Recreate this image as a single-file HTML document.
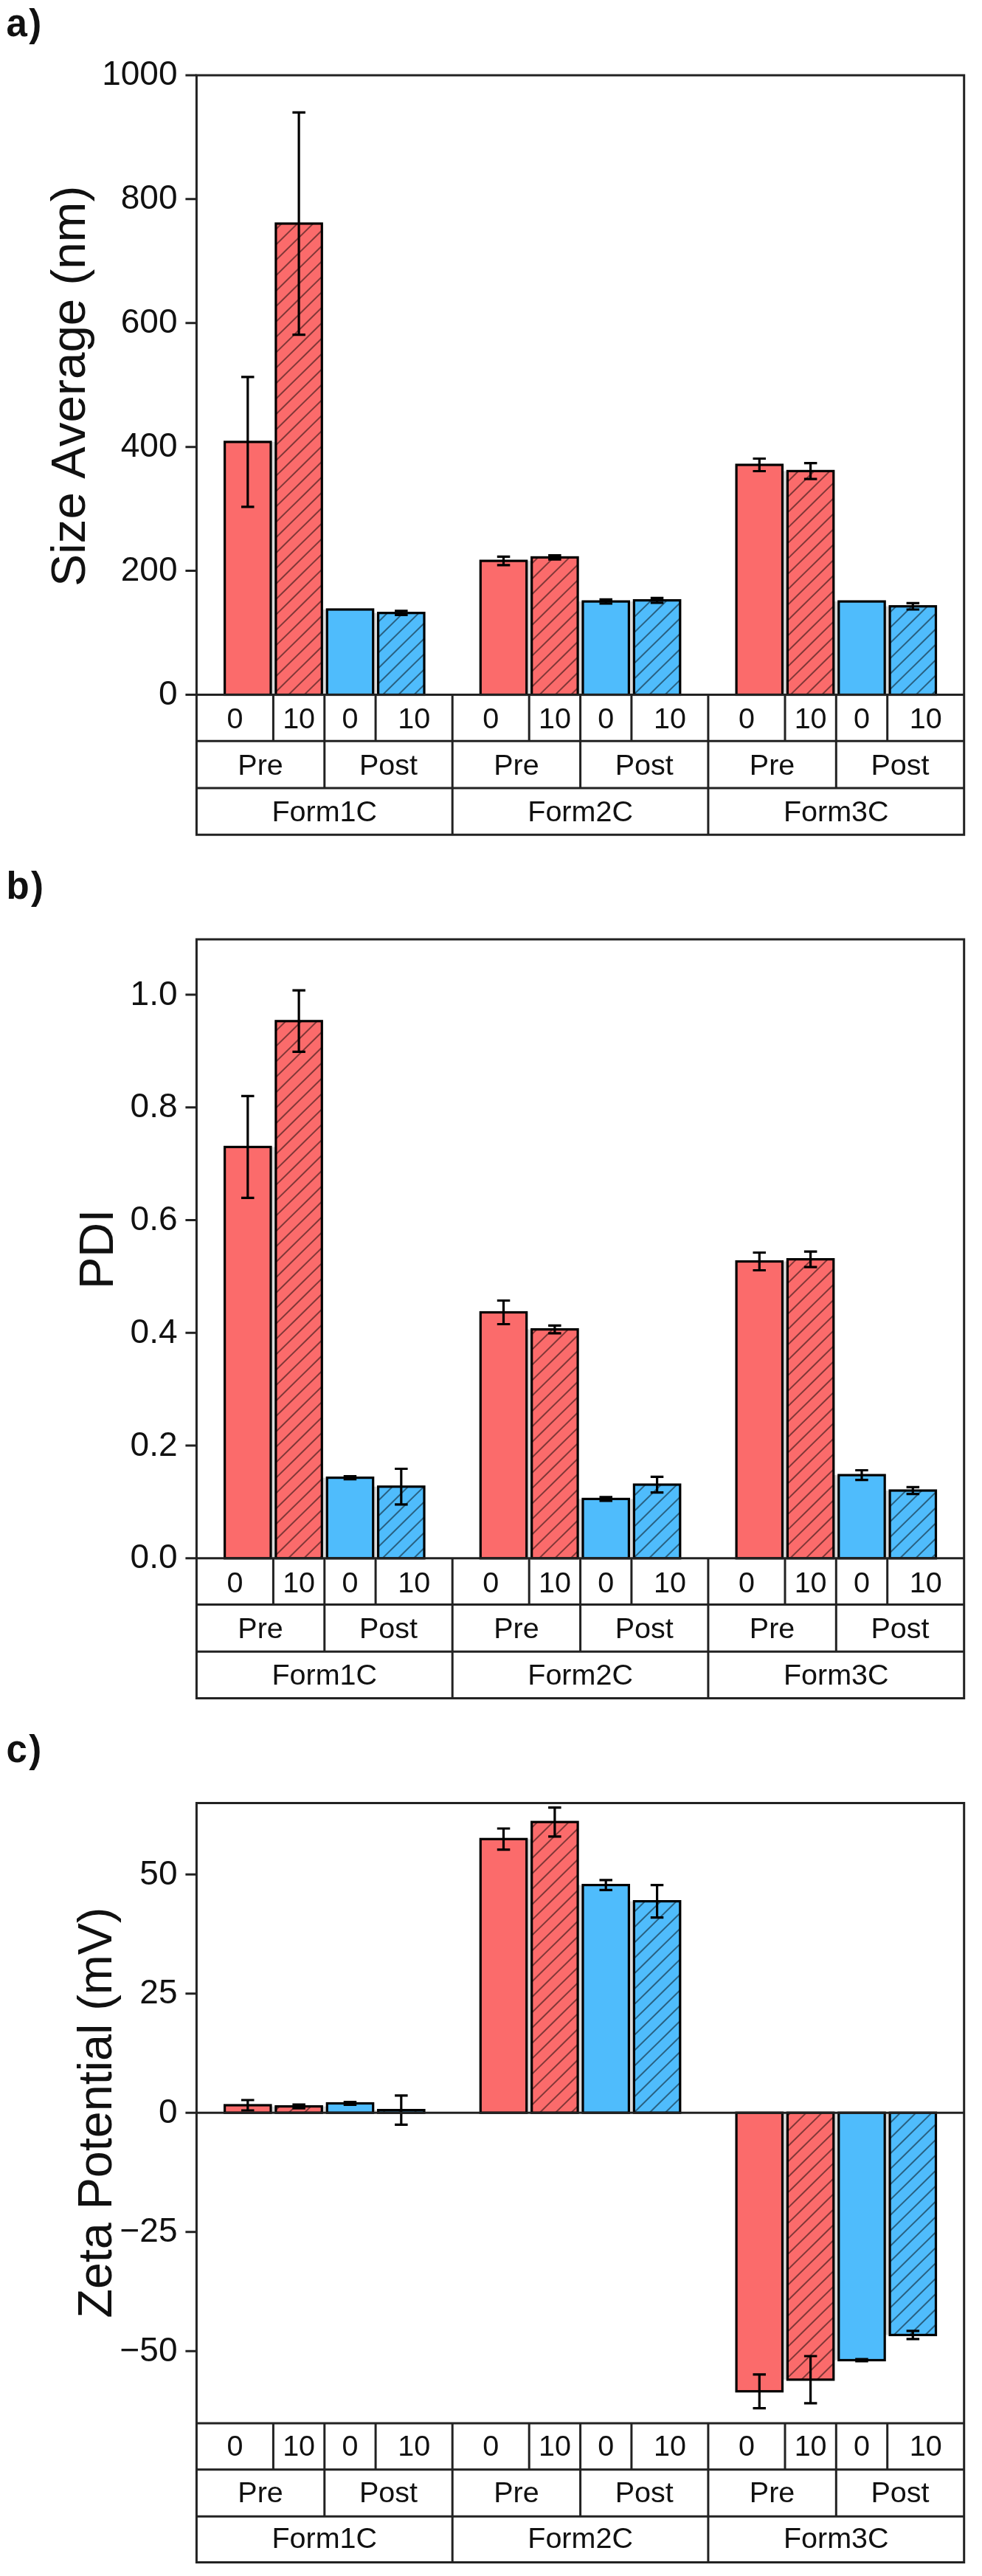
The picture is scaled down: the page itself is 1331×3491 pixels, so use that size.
<!DOCTYPE html>
<html lang="en"><head><meta charset="utf-8"><title>Figure</title>
<style>html,body{margin:0;padding:0;background:#fff}svg{display:block;filter:blur(0.5px)}text{font-family:"Liberation Sans",Arial,Helvetica,sans-serif;fill:#111;font-kerning:none}</style></head><body>
<svg width="1331" height="3491" viewBox="0 0 1331 3491">
<defs>
<pattern id="hatch" patternUnits="userSpaceOnUse" width="20" height="14.9" patternTransform="rotate(-44.5)"><line x1="-1" y1="7" x2="21" y2="7" stroke="#000" stroke-opacity="0.72" stroke-width="1.35"/></pattern>
</defs>
<rect x="0" y="0" width="1331" height="3491" fill="#ffffff"/>
<g id="panel-a">
<text x="8.4" y="48.5" font-size="51" font-weight="bold" letter-spacing="2.5">a)</text>
<rect x="367.0" y="598.9" width="6.95" height="342.6" fill="#dadada"/>
<rect x="436.3" y="826.0" width="6.95" height="115.5" fill="#dadada"/>
<rect x="505.7" y="830.7" width="6.95" height="110.8" fill="#dadada"/>
<rect x="713.7" y="760.1" width="6.95" height="181.4" fill="#dadada"/>
<rect x="783.1" y="815.1" width="6.95" height="126.4" fill="#dadada"/>
<rect x="852.4" y="815.1" width="6.95" height="126.4" fill="#dadada"/>
<rect x="1060.5" y="638.4" width="6.95" height="303.1" fill="#dadada"/>
<rect x="1129.8" y="815.1" width="6.95" height="126.4" fill="#dadada"/>
<rect x="1199.2" y="821.7" width="6.95" height="119.8" fill="#dadada"/>
<rect x="304.6" y="598.9" width="62.4" height="342.6" fill="#fb6b6b"/>
<rect x="304.6" y="598.9" width="62.4" height="342.6" fill="none" stroke="#000" stroke-width="3.2"/>
<rect x="373.9" y="303.0" width="62.4" height="638.5" fill="#fb6b6b"/>
<rect x="373.9" y="303.0" width="62.4" height="638.5" fill="url(#hatch)"/>
<rect x="373.9" y="303.0" width="62.4" height="638.5" fill="none" stroke="#000" stroke-width="3.2"/>
<rect x="443.3" y="826.0" width="62.4" height="115.5" fill="#4fbcfc"/>
<rect x="443.3" y="826.0" width="62.4" height="115.5" fill="none" stroke="#000" stroke-width="3.2"/>
<rect x="512.6" y="830.7" width="62.4" height="110.8" fill="#4fbcfc"/>
<rect x="512.6" y="830.7" width="62.4" height="110.8" fill="url(#hatch)"/>
<rect x="512.6" y="830.7" width="62.4" height="110.8" fill="none" stroke="#000" stroke-width="3.2"/>
<rect x="651.3" y="760.1" width="62.4" height="181.4" fill="#fb6b6b"/>
<rect x="651.3" y="760.1" width="62.4" height="181.4" fill="none" stroke="#000" stroke-width="3.2"/>
<rect x="720.7" y="755.4" width="62.4" height="186.1" fill="#fb6b6b"/>
<rect x="720.7" y="755.4" width="62.4" height="186.1" fill="url(#hatch)"/>
<rect x="720.7" y="755.4" width="62.4" height="186.1" fill="none" stroke="#000" stroke-width="3.2"/>
<rect x="790.0" y="815.1" width="62.4" height="126.4" fill="#4fbcfc"/>
<rect x="790.0" y="815.1" width="62.4" height="126.4" fill="none" stroke="#000" stroke-width="3.2"/>
<rect x="859.4" y="813.6" width="62.4" height="127.9" fill="#4fbcfc"/>
<rect x="859.4" y="813.6" width="62.4" height="127.9" fill="url(#hatch)"/>
<rect x="859.4" y="813.6" width="62.4" height="127.9" fill="none" stroke="#000" stroke-width="3.2"/>
<rect x="998.1" y="630.0" width="62.4" height="311.5" fill="#fb6b6b"/>
<rect x="998.1" y="630.0" width="62.4" height="311.5" fill="none" stroke="#000" stroke-width="3.2"/>
<rect x="1067.4" y="638.4" width="62.4" height="303.1" fill="#fb6b6b"/>
<rect x="1067.4" y="638.4" width="62.4" height="303.1" fill="url(#hatch)"/>
<rect x="1067.4" y="638.4" width="62.4" height="303.1" fill="none" stroke="#000" stroke-width="3.2"/>
<rect x="1136.8" y="815.1" width="62.4" height="126.4" fill="#4fbcfc"/>
<rect x="1136.8" y="815.1" width="62.4" height="126.4" fill="none" stroke="#000" stroke-width="3.2"/>
<rect x="1206.1" y="821.7" width="62.4" height="119.8" fill="#4fbcfc"/>
<rect x="1206.1" y="821.7" width="62.4" height="119.8" fill="url(#hatch)"/>
<rect x="1206.1" y="821.7" width="62.4" height="119.8" fill="none" stroke="#000" stroke-width="3.2"/>
<path d="M335.8 510.9V686.9M327.0 510.9H344.5M327.0 686.9H344.5" stroke="#000" stroke-width="3.2" fill="none"/>
<path d="M405.1 152.4V453.6M396.4 152.4H413.9M396.4 453.6H413.9" stroke="#000" stroke-width="3.2" fill="none"/>
<path d="M543.8 827.9V833.5M535.1 827.9H552.6M535.1 833.5H552.6" stroke="#000" stroke-width="3.2" fill="none"/>
<path d="M682.5 754.4V765.8M673.8 754.4H691.3M673.8 765.8H691.3" stroke="#000" stroke-width="3.2" fill="none"/>
<path d="M751.9 752.6V758.2M743.1 752.6H760.6M743.1 758.2H760.6" stroke="#000" stroke-width="3.2" fill="none"/>
<path d="M821.2 812.3V817.9M812.5 812.3H830.0M812.5 817.9H830.0" stroke="#000" stroke-width="3.2" fill="none"/>
<path d="M890.6 810.4V816.8M881.8 810.4H899.3M881.8 816.8H899.3" stroke="#000" stroke-width="3.2" fill="none"/>
<path d="M1029.3 621.5V638.5M1020.5 621.5H1038.0M1020.5 638.5H1038.0" stroke="#000" stroke-width="3.2" fill="none"/>
<path d="M1098.6 627.6V649.2M1089.9 627.6H1107.4M1089.9 649.2H1107.4" stroke="#000" stroke-width="3.2" fill="none"/>
<path d="M1237.3 817.4V826.0M1228.6 817.4H1246.1M1228.6 826.0H1246.1" stroke="#000" stroke-width="3.2" fill="none"/>
<path d="M266.4 101.9H1306.7V1131.2H266.4Z M266.4 941.5H1306.7 M266.4 1004.2H1306.7 M266.4 1068.0H1306.7 M370.4 941.5V1004.2 M439.8 941.5V1004.2 M509.1 941.5V1004.2 M613.2 941.5V1004.2 M717.2 941.5V1004.2 M786.6 941.5V1004.2 M855.9 941.5V1004.2 M959.9 941.5V1004.2 M1064.0 941.5V1004.2 M1133.3 941.5V1004.2 M1202.7 941.5V1004.2 M439.8 1004.2V1068.0 M613.2 1004.2V1068.0 M786.6 1004.2V1068.0 M959.9 1004.2V1068.0 M1133.3 1004.2V1068.0 M613.2 1068.0V1131.2 M959.9 1068.0V1131.2" fill="none" stroke="#222" stroke-width="3.0" stroke-linejoin="miter"/>
<path d="M251.4 941.5H266.4M251.4 773.6H266.4M251.4 605.7H266.4M251.4 437.7H266.4M251.4 269.8H266.4M251.4 101.9H266.4" fill="none" stroke="#222" stroke-width="3.0"/>
<text x="240.5" y="955.0" font-size="46" text-anchor="end">0</text>
<text x="240.5" y="787.1" font-size="46" text-anchor="end">200</text>
<text x="240.5" y="619.2" font-size="46" text-anchor="end">400</text>
<text x="240.5" y="451.2" font-size="46" text-anchor="end">600</text>
<text x="240.5" y="283.3" font-size="46" text-anchor="end">800</text>
<text x="240.5" y="115.4" font-size="46" text-anchor="end">1000</text>
<text transform="translate(115.2 523.2) rotate(-90)" font-size="64.5" text-anchor="middle" textLength="543" lengthAdjust="spacingAndGlyphs">Size Average (nm)</text>
<text x="318.4" y="987.2" font-size="39.5" text-anchor="middle">0</text>
<text x="405.1" y="987.2" font-size="39.5" text-anchor="middle">10</text>
<text x="474.5" y="987.2" font-size="39.5" text-anchor="middle">0</text>
<text x="561.2" y="987.2" font-size="39.5" text-anchor="middle">10</text>
<text x="665.2" y="987.2" font-size="39.5" text-anchor="middle">0</text>
<text x="751.9" y="987.2" font-size="39.5" text-anchor="middle">10</text>
<text x="821.2" y="987.2" font-size="39.5" text-anchor="middle">0</text>
<text x="907.9" y="987.2" font-size="39.5" text-anchor="middle">10</text>
<text x="1011.9" y="987.2" font-size="39.5" text-anchor="middle">0</text>
<text x="1098.6" y="987.2" font-size="39.5" text-anchor="middle">10</text>
<text x="1168.0" y="987.2" font-size="39.5" text-anchor="middle">0</text>
<text x="1254.7" y="987.2" font-size="39.5" text-anchor="middle">10</text>
<text x="353.1" y="1050.1" font-size="39.5" text-anchor="middle">Pre</text>
<text x="526.5" y="1050.1" font-size="39.5" text-anchor="middle">Post</text>
<text x="699.9" y="1050.1" font-size="39.5" text-anchor="middle">Pre</text>
<text x="873.2" y="1050.1" font-size="39.5" text-anchor="middle">Post</text>
<text x="1046.6" y="1050.1" font-size="39.5" text-anchor="middle">Pre</text>
<text x="1220.0" y="1050.1" font-size="39.5" text-anchor="middle">Post</text>
<text x="439.8" y="1113.0" font-size="39.5" text-anchor="middle">Form1C</text>
<text x="786.6" y="1113.0" font-size="39.5" text-anchor="middle">Form2C</text>
<text x="1133.3" y="1113.0" font-size="39.5" text-anchor="middle">Form3C</text>
</g>
<g id="panel-b">
<text x="8.4" y="1218.0" font-size="51" font-weight="bold" letter-spacing="2.5">b)</text>
<rect x="367.0" y="1554.4" width="6.95" height="557.4" fill="#dadada"/>
<rect x="436.3" y="2002.6" width="6.95" height="109.2" fill="#dadada"/>
<rect x="505.7" y="2014.7" width="6.95" height="97.1" fill="#dadada"/>
<rect x="713.7" y="1801.6" width="6.95" height="310.2" fill="#dadada"/>
<rect x="783.1" y="2031.4" width="6.95" height="80.4" fill="#dadada"/>
<rect x="852.4" y="2031.4" width="6.95" height="80.4" fill="#dadada"/>
<rect x="1060.5" y="1709.5" width="6.95" height="402.3" fill="#dadada"/>
<rect x="1129.8" y="1999.1" width="6.95" height="112.7" fill="#dadada"/>
<rect x="1199.2" y="2020.0" width="6.95" height="91.8" fill="#dadada"/>
<rect x="304.6" y="1554.4" width="62.4" height="557.4" fill="#fb6b6b"/>
<rect x="304.6" y="1554.4" width="62.4" height="557.4" fill="none" stroke="#000" stroke-width="3.2"/>
<rect x="373.9" y="1383.8" width="62.4" height="728.0" fill="#fb6b6b"/>
<rect x="373.9" y="1383.8" width="62.4" height="728.0" fill="url(#hatch)"/>
<rect x="373.9" y="1383.8" width="62.4" height="728.0" fill="none" stroke="#000" stroke-width="3.2"/>
<rect x="443.3" y="2002.6" width="62.4" height="109.2" fill="#4fbcfc"/>
<rect x="443.3" y="2002.6" width="62.4" height="109.2" fill="none" stroke="#000" stroke-width="3.2"/>
<rect x="512.6" y="2014.7" width="62.4" height="97.1" fill="#4fbcfc"/>
<rect x="512.6" y="2014.7" width="62.4" height="97.1" fill="url(#hatch)"/>
<rect x="512.6" y="2014.7" width="62.4" height="97.1" fill="none" stroke="#000" stroke-width="3.2"/>
<rect x="651.3" y="1778.5" width="62.4" height="333.3" fill="#fb6b6b"/>
<rect x="651.3" y="1778.5" width="62.4" height="333.3" fill="none" stroke="#000" stroke-width="3.2"/>
<rect x="720.7" y="1801.6" width="62.4" height="310.2" fill="#fb6b6b"/>
<rect x="720.7" y="1801.6" width="62.4" height="310.2" fill="url(#hatch)"/>
<rect x="720.7" y="1801.6" width="62.4" height="310.2" fill="none" stroke="#000" stroke-width="3.2"/>
<rect x="790.0" y="2031.4" width="62.4" height="80.4" fill="#4fbcfc"/>
<rect x="790.0" y="2031.4" width="62.4" height="80.4" fill="none" stroke="#000" stroke-width="3.2"/>
<rect x="859.4" y="2012.0" width="62.4" height="99.8" fill="#4fbcfc"/>
<rect x="859.4" y="2012.0" width="62.4" height="99.8" fill="url(#hatch)"/>
<rect x="859.4" y="2012.0" width="62.4" height="99.8" fill="none" stroke="#000" stroke-width="3.2"/>
<rect x="998.1" y="1709.5" width="62.4" height="402.3" fill="#fb6b6b"/>
<rect x="998.1" y="1709.5" width="62.4" height="402.3" fill="none" stroke="#000" stroke-width="3.2"/>
<rect x="1067.4" y="1706.6" width="62.4" height="405.2" fill="#fb6b6b"/>
<rect x="1067.4" y="1706.6" width="62.4" height="405.2" fill="url(#hatch)"/>
<rect x="1067.4" y="1706.6" width="62.4" height="405.2" fill="none" stroke="#000" stroke-width="3.2"/>
<rect x="1136.8" y="1999.1" width="62.4" height="112.7" fill="#4fbcfc"/>
<rect x="1136.8" y="1999.1" width="62.4" height="112.7" fill="none" stroke="#000" stroke-width="3.2"/>
<rect x="1206.1" y="2020.0" width="62.4" height="91.8" fill="#4fbcfc"/>
<rect x="1206.1" y="2020.0" width="62.4" height="91.8" fill="url(#hatch)"/>
<rect x="1206.1" y="2020.0" width="62.4" height="91.8" fill="none" stroke="#000" stroke-width="3.2"/>
<path d="M335.8 1485.4V1623.4M327.0 1485.4H344.5M327.0 1623.4H344.5" stroke="#000" stroke-width="3.2" fill="none"/>
<path d="M405.1 1342.2V1425.4M396.4 1342.2H413.9M396.4 1425.4H413.9" stroke="#000" stroke-width="3.2" fill="none"/>
<path d="M474.5 2000.6V2004.6M465.7 2000.6H483.2M465.7 2004.6H483.2" stroke="#000" stroke-width="3.2" fill="none"/>
<path d="M543.8 1990.5V2038.9M535.1 1990.5H552.6M535.1 2038.9H552.6" stroke="#000" stroke-width="3.2" fill="none"/>
<path d="M682.5 1762.5V1794.5M673.8 1762.5H691.3M673.8 1794.5H691.3" stroke="#000" stroke-width="3.2" fill="none"/>
<path d="M751.9 1796.3V1806.9M743.1 1796.3H760.6M743.1 1806.9H760.6" stroke="#000" stroke-width="3.2" fill="none"/>
<path d="M821.2 2028.8V2034.0M812.5 2028.8H830.0M812.5 2034.0H830.0" stroke="#000" stroke-width="3.2" fill="none"/>
<path d="M890.6 2001.4V2022.6M881.8 2001.4H899.3M881.8 2022.6H899.3" stroke="#000" stroke-width="3.2" fill="none"/>
<path d="M1029.3 1697.5V1721.5M1020.5 1697.5H1038.0M1020.5 1721.5H1038.0" stroke="#000" stroke-width="3.2" fill="none"/>
<path d="M1098.6 1696.1V1717.1M1089.9 1696.1H1107.4M1089.9 1717.1H1107.4" stroke="#000" stroke-width="3.2" fill="none"/>
<path d="M1168.0 1992.5V2005.7M1159.2 1992.5H1176.7M1159.2 2005.7H1176.7" stroke="#000" stroke-width="3.2" fill="none"/>
<path d="M1237.3 2015.4V2024.6M1228.6 2015.4H1246.1M1228.6 2024.6H1246.1" stroke="#000" stroke-width="3.2" fill="none"/>
<path d="M266.4 1273.0H1306.7V2301.5H266.4Z M266.4 2111.8H1306.7 M266.4 2174.5H1306.7 M266.4 2238.3H1306.7 M370.4 2111.8V2174.5 M439.8 2111.8V2174.5 M509.1 2111.8V2174.5 M613.2 2111.8V2174.5 M717.2 2111.8V2174.5 M786.6 2111.8V2174.5 M855.9 2111.8V2174.5 M959.9 2111.8V2174.5 M1064.0 2111.8V2174.5 M1133.3 2111.8V2174.5 M1202.7 2111.8V2174.5 M439.8 2174.5V2238.3 M613.2 2174.5V2238.3 M786.6 2174.5V2238.3 M959.9 2174.5V2238.3 M1133.3 2174.5V2238.3 M613.2 2238.3V2301.5 M959.9 2238.3V2301.5" fill="none" stroke="#222" stroke-width="3.0" stroke-linejoin="miter"/>
<path d="M251.4 2111.8H266.4M251.4 1959.1H266.4M251.4 1806.3H266.4M251.4 1653.6H266.4M251.4 1500.8H266.4M251.4 1348.1H266.4" fill="none" stroke="#222" stroke-width="3.0"/>
<text x="240.5" y="2125.3" font-size="46" text-anchor="end">0.0</text>
<text x="240.5" y="1972.6" font-size="46" text-anchor="end">0.2</text>
<text x="240.5" y="1819.8" font-size="46" text-anchor="end">0.4</text>
<text x="240.5" y="1667.1" font-size="46" text-anchor="end">0.6</text>
<text x="240.5" y="1514.3" font-size="46" text-anchor="end">0.8</text>
<text x="240.5" y="1361.6" font-size="46" text-anchor="end">1.0</text>
<text transform="translate(153.3 1692.9) rotate(-90)" font-size="64.5" text-anchor="middle" textLength="108.4" lengthAdjust="spacingAndGlyphs">PDI</text>
<text x="318.4" y="2157.5" font-size="39.5" text-anchor="middle">0</text>
<text x="405.1" y="2157.5" font-size="39.5" text-anchor="middle">10</text>
<text x="474.5" y="2157.5" font-size="39.5" text-anchor="middle">0</text>
<text x="561.2" y="2157.5" font-size="39.5" text-anchor="middle">10</text>
<text x="665.2" y="2157.5" font-size="39.5" text-anchor="middle">0</text>
<text x="751.9" y="2157.5" font-size="39.5" text-anchor="middle">10</text>
<text x="821.2" y="2157.5" font-size="39.5" text-anchor="middle">0</text>
<text x="907.9" y="2157.5" font-size="39.5" text-anchor="middle">10</text>
<text x="1011.9" y="2157.5" font-size="39.5" text-anchor="middle">0</text>
<text x="1098.6" y="2157.5" font-size="39.5" text-anchor="middle">10</text>
<text x="1168.0" y="2157.5" font-size="39.5" text-anchor="middle">0</text>
<text x="1254.7" y="2157.5" font-size="39.5" text-anchor="middle">10</text>
<text x="353.1" y="2220.4" font-size="39.5" text-anchor="middle">Pre</text>
<text x="526.5" y="2220.4" font-size="39.5" text-anchor="middle">Post</text>
<text x="699.9" y="2220.4" font-size="39.5" text-anchor="middle">Pre</text>
<text x="873.2" y="2220.4" font-size="39.5" text-anchor="middle">Post</text>
<text x="1046.6" y="2220.4" font-size="39.5" text-anchor="middle">Pre</text>
<text x="1220.0" y="2220.4" font-size="39.5" text-anchor="middle">Post</text>
<text x="439.8" y="2283.3" font-size="39.5" text-anchor="middle">Form1C</text>
<text x="786.6" y="2283.3" font-size="39.5" text-anchor="middle">Form2C</text>
<text x="1133.3" y="2283.3" font-size="39.5" text-anchor="middle">Form3C</text>
</g>
<g id="panel-c">
<text x="8.4" y="2388.0" font-size="51" font-weight="bold" letter-spacing="2.5">c)</text>
<rect x="367.0" y="2854.6" width="6.95" height="8.6" fill="#dadada"/>
<rect x="436.3" y="2854.6" width="6.95" height="8.6" fill="#dadada"/>
<rect x="505.7" y="2859.6" width="6.95" height="3.6" fill="#dadada"/>
<rect x="713.7" y="2492.3" width="6.95" height="370.9" fill="#dadada"/>
<rect x="783.1" y="2554.6" width="6.95" height="308.6" fill="#dadada"/>
<rect x="852.4" y="2576.6" width="6.95" height="286.6" fill="#dadada"/>
<rect x="1060.5" y="2863.2" width="6.95" height="361.7" fill="#dadada"/>
<rect x="1129.8" y="2863.2" width="6.95" height="335.3" fill="#dadada"/>
<rect x="1199.2" y="2863.2" width="6.95" height="301.2" fill="#dadada"/>
<rect x="304.6" y="2853.0" width="62.4" height="10.2" fill="#fb6b6b"/>
<rect x="304.6" y="2853.0" width="62.4" height="10.2" fill="none" stroke="#000" stroke-width="3.2"/>
<rect x="373.9" y="2854.6" width="62.4" height="8.6" fill="#fb6b6b"/>
<rect x="373.9" y="2854.6" width="62.4" height="8.6" fill="url(#hatch)"/>
<rect x="373.9" y="2854.6" width="62.4" height="8.6" fill="none" stroke="#000" stroke-width="3.2"/>
<rect x="443.3" y="2850.5" width="62.4" height="12.7" fill="#4fbcfc"/>
<rect x="443.3" y="2850.5" width="62.4" height="12.7" fill="none" stroke="#000" stroke-width="3.2"/>
<rect x="512.6" y="2859.6" width="62.4" height="3.6" fill="#4fbcfc"/>
<rect x="512.6" y="2859.6" width="62.4" height="3.6" fill="url(#hatch)"/>
<rect x="512.6" y="2859.6" width="62.4" height="3.6" fill="none" stroke="#000" stroke-width="3.2"/>
<rect x="651.3" y="2492.3" width="62.4" height="370.9" fill="#fb6b6b"/>
<rect x="651.3" y="2492.3" width="62.4" height="370.9" fill="none" stroke="#000" stroke-width="3.2"/>
<rect x="720.7" y="2469.2" width="62.4" height="394.0" fill="#fb6b6b"/>
<rect x="720.7" y="2469.2" width="62.4" height="394.0" fill="url(#hatch)"/>
<rect x="720.7" y="2469.2" width="62.4" height="394.0" fill="none" stroke="#000" stroke-width="3.2"/>
<rect x="790.0" y="2554.6" width="62.4" height="308.6" fill="#4fbcfc"/>
<rect x="790.0" y="2554.6" width="62.4" height="308.6" fill="none" stroke="#000" stroke-width="3.2"/>
<rect x="859.4" y="2576.6" width="62.4" height="286.6" fill="#4fbcfc"/>
<rect x="859.4" y="2576.6" width="62.4" height="286.6" fill="url(#hatch)"/>
<rect x="859.4" y="2576.6" width="62.4" height="286.6" fill="none" stroke="#000" stroke-width="3.2"/>
<rect x="998.1" y="2863.2" width="62.4" height="377.5" fill="#fb6b6b"/>
<rect x="998.1" y="2863.2" width="62.4" height="377.5" fill="none" stroke="#000" stroke-width="3.2"/>
<rect x="1067.4" y="2863.2" width="62.4" height="361.7" fill="#fb6b6b"/>
<rect x="1067.4" y="2863.2" width="62.4" height="361.7" fill="url(#hatch)"/>
<rect x="1067.4" y="2863.2" width="62.4" height="361.7" fill="none" stroke="#000" stroke-width="3.2"/>
<rect x="1136.8" y="2863.2" width="62.4" height="335.3" fill="#4fbcfc"/>
<rect x="1136.8" y="2863.2" width="62.4" height="335.3" fill="none" stroke="#000" stroke-width="3.2"/>
<rect x="1206.1" y="2863.2" width="62.4" height="301.2" fill="#4fbcfc"/>
<rect x="1206.1" y="2863.2" width="62.4" height="301.2" fill="url(#hatch)"/>
<rect x="1206.1" y="2863.2" width="62.4" height="301.2" fill="none" stroke="#000" stroke-width="3.2"/>
<path d="M335.8 2846.0V2860.0M327.0 2846.0H344.5M327.0 2860.0H344.5" stroke="#000" stroke-width="3.2" fill="none"/>
<path d="M405.1 2852.1V2857.1M396.4 2852.1H413.9M396.4 2857.1H413.9" stroke="#000" stroke-width="3.2" fill="none"/>
<path d="M474.5 2848.5V2852.5M465.7 2848.5H483.2M465.7 2852.5H483.2" stroke="#000" stroke-width="3.2" fill="none"/>
<path d="M543.8 2839.8V2879.4M535.1 2839.8H552.6M535.1 2879.4H552.6" stroke="#000" stroke-width="3.2" fill="none"/>
<path d="M682.5 2478.0V2506.6M673.8 2478.0H691.3M673.8 2506.6H691.3" stroke="#000" stroke-width="3.2" fill="none"/>
<path d="M751.9 2449.6V2488.8M743.1 2449.6H760.6M743.1 2488.8H760.6" stroke="#000" stroke-width="3.2" fill="none"/>
<path d="M821.2 2547.8V2561.4M812.5 2547.8H830.0M812.5 2561.4H830.0" stroke="#000" stroke-width="3.2" fill="none"/>
<path d="M890.6 2554.6V2598.6M881.8 2554.6H899.3M881.8 2598.6H899.3" stroke="#000" stroke-width="3.2" fill="none"/>
<path d="M1029.3 3217.8V3263.6M1020.5 3217.8H1038.0M1020.5 3263.6H1038.0" stroke="#000" stroke-width="3.2" fill="none"/>
<path d="M1098.6 3193.0V3256.8M1089.9 3193.0H1107.4M1089.9 3256.8H1107.4" stroke="#000" stroke-width="3.2" fill="none"/>
<path d="M1168.0 3197.0V3200.0M1159.2 3197.0H1176.7M1159.2 3200.0H1176.7" stroke="#000" stroke-width="3.2" fill="none"/>
<path d="M1237.3 3158.9V3169.9M1228.6 3158.9H1246.1M1228.6 3169.9H1246.1" stroke="#000" stroke-width="3.2" fill="none"/>
<line x1="266.4" y1="2863.2" x2="1306.7" y2="2863.2" stroke="#222" stroke-width="3.0"/>
<path d="M266.4 2443.5H1306.7V3472.4H266.4Z M266.4 3284.1H1306.7 M266.4 3346.7999999999997H1306.7 M266.4 3410.2999999999997H1306.7 M370.4 3284.1V3346.7999999999997 M439.8 3284.1V3346.7999999999997 M509.1 3284.1V3346.7999999999997 M613.2 3284.1V3346.7999999999997 M717.2 3284.1V3346.7999999999997 M786.6 3284.1V3346.7999999999997 M855.9 3284.1V3346.7999999999997 M959.9 3284.1V3346.7999999999997 M1064.0 3284.1V3346.7999999999997 M1133.3 3284.1V3346.7999999999997 M1202.7 3284.1V3346.7999999999997 M439.8 3346.7999999999997V3410.2999999999997 M613.2 3346.7999999999997V3410.2999999999997 M786.6 3346.7999999999997V3410.2999999999997 M959.9 3346.7999999999997V3410.2999999999997 M1133.3 3346.7999999999997V3410.2999999999997 M613.2 3410.2999999999997V3472.4 M959.9 3410.2999999999997V3472.4" fill="none" stroke="#222" stroke-width="3.0" stroke-linejoin="miter"/>
<path d="M251.4 3186.2H266.4M251.4 3024.7H266.4M251.4 2863.2H266.4M251.4 2701.7H266.4M251.4 2540.2H266.4" fill="none" stroke="#222" stroke-width="3.0"/>
<text x="240.5" y="3199.7" font-size="46" text-anchor="end">−50</text>
<text x="240.5" y="3038.2" font-size="46" text-anchor="end">−25</text>
<text x="240.5" y="2876.7" font-size="46" text-anchor="end">0</text>
<text x="240.5" y="2715.2" font-size="46" text-anchor="end">25</text>
<text x="240.5" y="2553.7" font-size="46" text-anchor="end">50</text>
<text transform="translate(150.6 2863.1) rotate(-90)" font-size="64.5" text-anchor="middle" textLength="557" lengthAdjust="spacingAndGlyphs">Zeta Potential (mV)</text>
<text x="318.4" y="3327.6" font-size="39.5" text-anchor="middle">0</text>
<text x="405.1" y="3327.6" font-size="39.5" text-anchor="middle">10</text>
<text x="474.5" y="3327.6" font-size="39.5" text-anchor="middle">0</text>
<text x="561.2" y="3327.6" font-size="39.5" text-anchor="middle">10</text>
<text x="665.2" y="3327.6" font-size="39.5" text-anchor="middle">0</text>
<text x="751.9" y="3327.6" font-size="39.5" text-anchor="middle">10</text>
<text x="821.2" y="3327.6" font-size="39.5" text-anchor="middle">0</text>
<text x="907.9" y="3327.6" font-size="39.5" text-anchor="middle">10</text>
<text x="1011.9" y="3327.6" font-size="39.5" text-anchor="middle">0</text>
<text x="1098.6" y="3327.6" font-size="39.5" text-anchor="middle">10</text>
<text x="1168.0" y="3327.6" font-size="39.5" text-anchor="middle">0</text>
<text x="1254.7" y="3327.6" font-size="39.5" text-anchor="middle">10</text>
<text x="353.1" y="3390.5" font-size="39.5" text-anchor="middle">Pre</text>
<text x="526.5" y="3390.5" font-size="39.5" text-anchor="middle">Post</text>
<text x="699.9" y="3390.5" font-size="39.5" text-anchor="middle">Pre</text>
<text x="873.2" y="3390.5" font-size="39.5" text-anchor="middle">Post</text>
<text x="1046.6" y="3390.5" font-size="39.5" text-anchor="middle">Pre</text>
<text x="1220.0" y="3390.5" font-size="39.5" text-anchor="middle">Post</text>
<text x="439.8" y="3453.4" font-size="39.5" text-anchor="middle">Form1C</text>
<text x="786.6" y="3453.4" font-size="39.5" text-anchor="middle">Form2C</text>
<text x="1133.3" y="3453.4" font-size="39.5" text-anchor="middle">Form3C</text>
</g>
</svg></body></html>
